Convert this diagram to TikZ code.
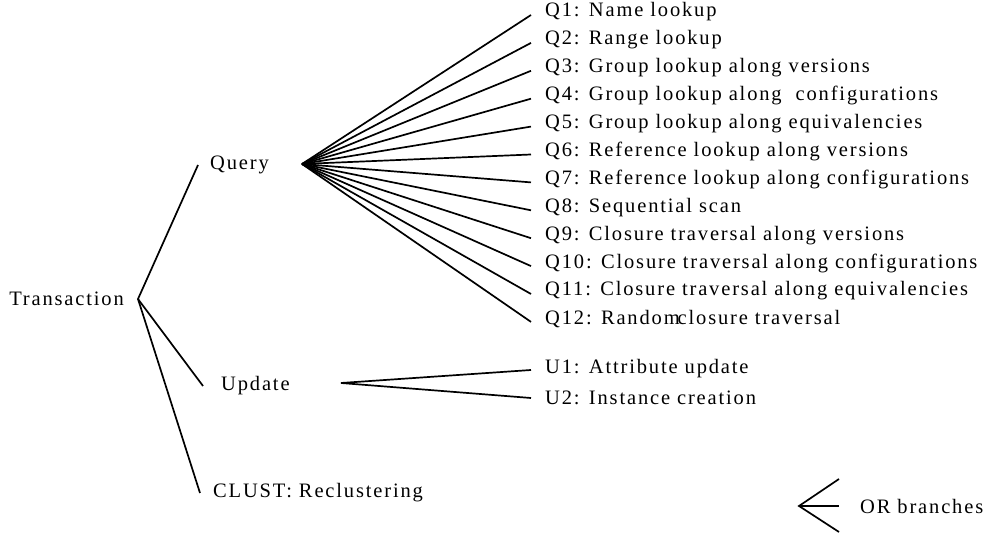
\documentclass[tikz,border=0pt]{standalone}
\usepackage{fontspec}
\setmainfont[LetterSpace=9]{Liberation Serif}
\begin{document}
\begin{tikzpicture}[x=1pt,y=-1pt,
  lbl/.style={font=\fontsize{20.5}{24}\selectfont, inner sep=0pt, anchor=west},
  br/.style={line width=1.7pt, black}]
\useasboundingbox (0,0) rectangle (989,534);
% root
\node[lbl, anchor=east, inner xsep=14pt] (trans) at (138,299) {Transaction};
\node[lbl, inner xsep=12pt] (query) at (198,165) {Query};
\node[lbl, inner xsep=18pt] (update) at (203,386) {Update};
\node[lbl, inner xsep=13pt] (clust) at (200,493) {CLUST: Reclustering};
\draw[br] (query.west) -- (trans.east) -- (update.west);
\draw[br] (trans.east) -- (clust.west);
% query fan
\coordinate (qa) at (302,164);
\foreach \i/\t in {0/{Q1: Name lookup},1/{Q2: Range lookup},2/{Q3: Group lookup along versions},3/{Q4: Group lookup along~ configurations},4/{Q5: Group lookup along equivalencies},5/{Q6: Reference lookup along versions},6/{Q7: Reference lookup along configurations},7/{Q8: Sequential scan},8/{Q9: Closure traversal along versions},9/{Q10: Closure traversal along configurations},10/{Q11: Closure traversal along equivalencies},11/{Q12: Random\hspace{-2pt}closure traversal}}{
  \node[lbl, inner xsep=14pt, yshift=3pt] (q\i) at (531,{15+27.9*\i}) {\t};
  \draw[br] (qa) -- ([yshift=-3pt]q\i.west);
}
% update fan
\coordinate (ua) at (341,383);
\node[lbl, inner xsep=14pt, yshift=1pt] (u1) at (531,370) {U1: Attribute update};
\node[lbl, inner xsep=14pt, yshift=0pt] (u2) at (531,398) {U2: Instance creation};
\draw[br] ([yshift=-1pt]u1.west) -- (ua) -- (u2.west);
% legend
\coordinate (oa) at (799,506);
\coordinate (ot) at (839,479);
\coordinate (ob) at (839,532);
\node[lbl, inner xsep=21pt] (orl) at (839,506) {OR branches};
\draw[br] (ot) -- (oa) -- (ob);
\draw[br] (oa) -- (orl.west);
\end{tikzpicture}
\end{document}
